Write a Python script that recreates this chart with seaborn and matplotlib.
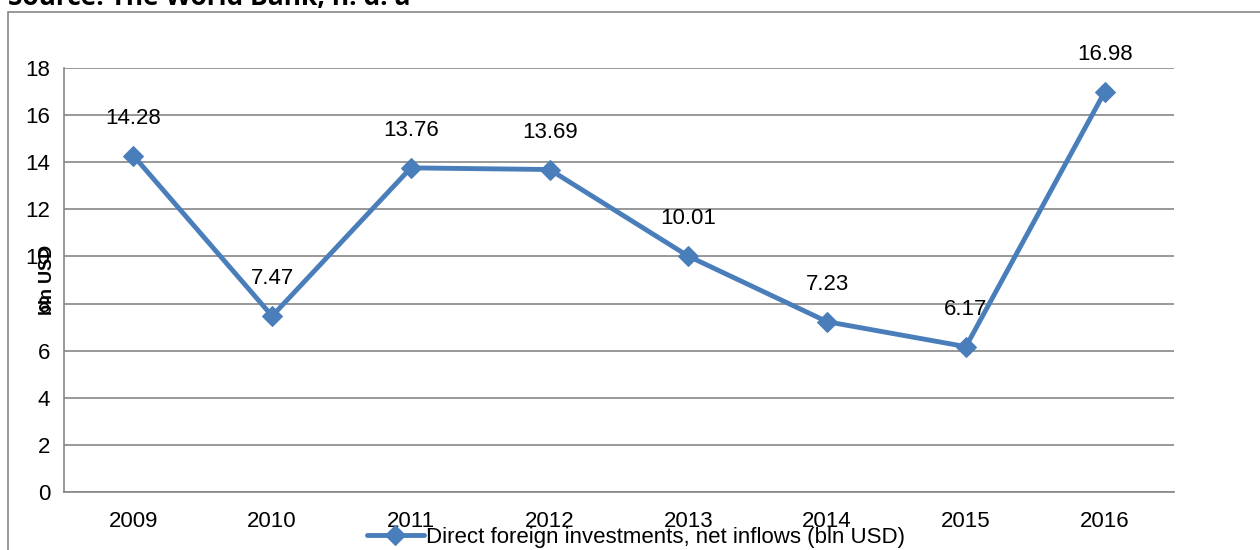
import pandas as pd
import seaborn as sns
import matplotlib.pyplot as plt
from matplotlib import font_manager
from matplotlib.patches import Rectangle

# === Data ===
years = ["2009", "2010", "2011", "2012", "2013", "2014", "2015", "2016"]
fdi = [14.28, 7.47, 13.76, 13.69, 10.01, 7.23, 6.17, 16.98]
series_name = "Direct foreign investments, net inflows (bln USD)"
y_ticks = [0, 2, 4, 6, 8, 10, 12, 14, 16, 18]

df = pd.DataFrame({"pos": range(len(years)), "value": fdi, "series": series_name})

# === Style ===
sns.set_style("white")
names = {f.name for f in font_manager.fontManager.ttflist}
if "Liberation Sans Narrow" in names:
    plt.rcParams["font.family"] = ["Liberation Sans Narrow", "DejaVu Sans"]
    fs = 18
else:
    plt.rcParams["font.family"] = ["Liberation Sans", "DejaVu Sans"]
    fs = 16
plt.rcParams["text.color"] = "black"
plt.rcParams["xtick.labelcolor"] = "black"
plt.rcParams["ytick.labelcolor"] = "black"

blue = "#4a7ebb"
grey = "#868686"

fig = plt.figure(figsize=(12.6, 5.5), dpi=100)
ax = fig.add_axes([64 / 1260, 1 - 492 / 550, 1110 / 1260, 424 / 550])

sns.lineplot(data=df, x="pos", y="value", hue="series", palette=[blue],
             marker="D", markersize=10, linewidth=3.5, markeredgecolor=blue,
             ax=ax, legend=True)

# data labels
for i, v in enumerate(fdi):
    ax.annotate(f"{v:.2f}", (i, v), xytext=(0, 27), textcoords="offset points",
                ha="center", va="center", fontsize=fs)

ax.set_xlim(-0.5, len(years) - 0.5)
ax.set_ylim(0, 18)
ax.set_yticks(y_ticks)
ax.set_yticklabels([str(t) for t in y_ticks], fontsize=fs)
ax.set_xticks(range(len(years)))
ax.set_xticklabels(years, fontsize=fs)
ax.set_xticks([i - 0.5 for i in range(len(years) + 1)], minor=True)
ax.tick_params(axis="x", which="major", length=0, pad=14)
ax.tick_params(axis="x", which="minor", length=6, color=grey, width=1.2, direction="out")
ax.tick_params(axis="y", length=6, color=grey, width=1.2, direction="out", pad=4)
ax.set_xlabel("")
ax.set_ylabel("")

ax.grid(axis="y", color=grey, linewidth=1.2)
ax.set_axisbelow(True)
for side in ["top", "right"]:
    ax.spines[side].set_visible(False)
for side in ["left", "bottom"]:
    ax.spines[side].set_color(grey)
    ax.spines[side].set_linewidth(1.2)

# legend at the bottom, overlapping tick labels like the original
h, l = ax.get_legend_handles_labels()
ax.legend(h, l, loc="center", bbox_to_anchor=(636 / 1260, 1 - 537 / 550),
          bbox_transform=fig.transFigure, frameon=False, fontsize=fs,
          handlelength=2.6, handletextpad=0.1, borderpad=0)

# y label and source line
fig.text(47 / 1260, 1 - 280 / 550, "bln USD", rotation=90, ha="center", va="center",
         fontsize=fs - 3, fontweight="bold", family=["Liberation Sans", "DejaVu Sans"])
fig.text(8 / 1260, 1 - 5 / 550, "Source: The World Bank, n. d. a", ha="left",
         va="baseline", fontsize=19, fontweight="bold", family=["Open Sans", "DejaVu Sans"])

# outer chart frame
fig.patches.append(Rectangle((8 / 1260, -0.1), 1.2, 1 - 12.5 / 550 + 0.1,
                             transform=fig.transFigure, fill=False,
                             edgecolor=grey, linewidth=1.2, clip_on=False))

plt.savefig("out.png", dpi=100)
